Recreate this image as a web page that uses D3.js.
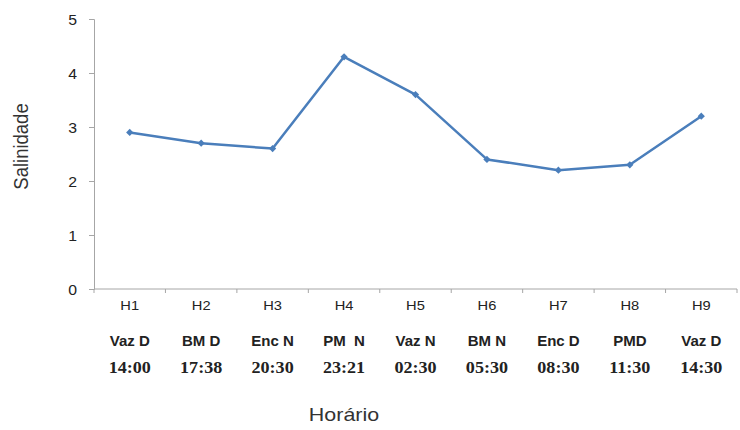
<!DOCTYPE html>
<html>
<head>
<meta charset="utf-8">
<script src="https://cdn.jsdelivr.net/npm/d3@7"></script>
<style>
  html, body { margin: 0; padding: 0; background: #fff; }
  svg { display: block; }
</style>
</head>
<body>
<svg id="chart" width="740" height="430"></svg>
<script>
// Salinity through one tidal cycle
const hours = ["H1", "H2", "H3", "H4", "H5", "H6", "H7", "H8", "H9"];
const tideStages = ["Vaz D", "BM D", "Enc N", "PM  N", "Vaz N", "BM N", "Enc D", "PMD", "Vaz D"];
const times = ["14:00", "17:38", "20:30", "23:21", "02:30", "05:30", "08:30", "11:30", "14:30"];
const salinity = [2.9, 2.7, 2.6, 4.3, 3.6, 2.4, 2.2, 2.3, 3.2];
const yTicks = [0, 1, 2, 3, 4, 5];

const svg = d3.select("#chart");
const plotLeft = 94, plotRight = 737, plotTop = 19, plotBottom = 289;
const stretch = 1.13; // slightly widened lettering

const x = d3.scaleBand().domain(hours).range([plotLeft, plotRight]);
const y = d3.scaleLinear().domain([0, 5]).range([plotBottom, plotTop]);

const axisColor = "#a6a6a6";
const lineColor = "#4a7ebb";

// Y axis
const yAxis = svg.append("g")
  .attr("transform", `translate(${plotLeft},0)`)
  .call(d3.axisLeft(y).tickValues(yTicks).tickSize(5).tickPadding(0).tickFormat(d3.format("d")));
yAxis.select(".domain").attr("stroke", axisColor).attr("stroke-width", 1);
yAxis.selectAll(".tick line").attr("stroke", axisColor);
yAxis.selectAll(".tick text").remove();
yAxis.selectAll(".tick").append("text")
  .attr("transform", `translate(-17,5) scale(${stretch},1)`)
  .attr("text-anchor", "end")
  .attr("font-family", "Liberation Sans, Arial, sans-serif")
  .attr("font-size", 14)
  .attr("fill", "#222")
  .text(d => d);

// X axis: band boundaries carry the tick marks
const xAxisG = svg.append("g").attr("transform", `translate(0,${plotBottom})`);
xAxisG.append("line")
  .attr("x1", plotLeft).attr("x2", plotRight).attr("y1", 0).attr("y2", 0)
  .attr("stroke", axisColor).attr("stroke-width", 1);
const boundaries = hours.map(h => x(h)).concat([x(hours[hours.length - 1]) + x.bandwidth()]);
xAxisG.selectAll("line.tick").data(boundaries).join("line")
  .attr("class", "tick")
  .attr("x1", d => d).attr("x2", d => d)
  .attr("y1", 0).attr("y2", 4)
  .attr("stroke", axisColor);

// Three rows of category labels
const cx = h => x(h) + x.bandwidth() / 2;
function labelRow(values, baseline, family, size, weight, sx, color) {
  svg.append("g").selectAll("text").data(values).join("text")
    .attr("transform", (d, i) => `translate(${cx(hours[i])},${baseline}) scale(${sx},1)`)
    .attr("text-anchor", "middle")
    .attr("font-family", family)
    .attr("font-size", size)
    .attr("font-weight", weight)
    .attr("fill", color)
    .style("white-space", "pre")
    .text(d => d);
}
labelRow(hours, 309.5, "Liberation Sans, Arial, sans-serif", 13, "normal", stretch, "#222");
labelRow(tideStages, 345.5, "Liberation Sans, Arial, sans-serif", 15, "bold", 1.0, "#222");
labelRow(times, 372.5, "Liberation Serif, Times New Roman, serif", 16, "bold", stretch, "#222");

// Axis titles
svg.append("text")
  .attr("transform", `translate(344,421) scale(${stretch},1)`)
  .attr("text-anchor", "middle")
  .attr("font-family", "Liberation Sans, Arial, sans-serif")
  .attr("font-size", 19)
  .attr("fill", "#333")
  .text("Horário");

svg.append("text")
  .attr("transform", `translate(28,146.5) scale(${stretch},1) rotate(-90)`)
  .attr("text-anchor", "middle")
  .attr("font-family", "Liberation Sans, Arial, sans-serif")
  .attr("font-size", 18.5)
  .attr("fill", "#333")
  .text("Salinidade");

// Series line and diamond markers
const line = d3.line().x((d, i) => cx(hours[i])).y(d => y(d));
svg.append("path")
  .datum(salinity)
  .attr("d", line)
  .attr("fill", "none")
  .attr("stroke", lineColor)
  .attr("stroke-width", 2.5)
  .attr("stroke-linejoin", "round");

const marker = d3.symbol().type(d3.symbolSquare).size(26);
svg.append("g").selectAll("path").data(salinity).join("path")
  .attr("transform", (d, i) => `translate(${cx(hours[i])},${y(d)}) rotate(45)`)
  .attr("d", marker)
  .attr("fill", lineColor);
</script>
</body>
</html>
